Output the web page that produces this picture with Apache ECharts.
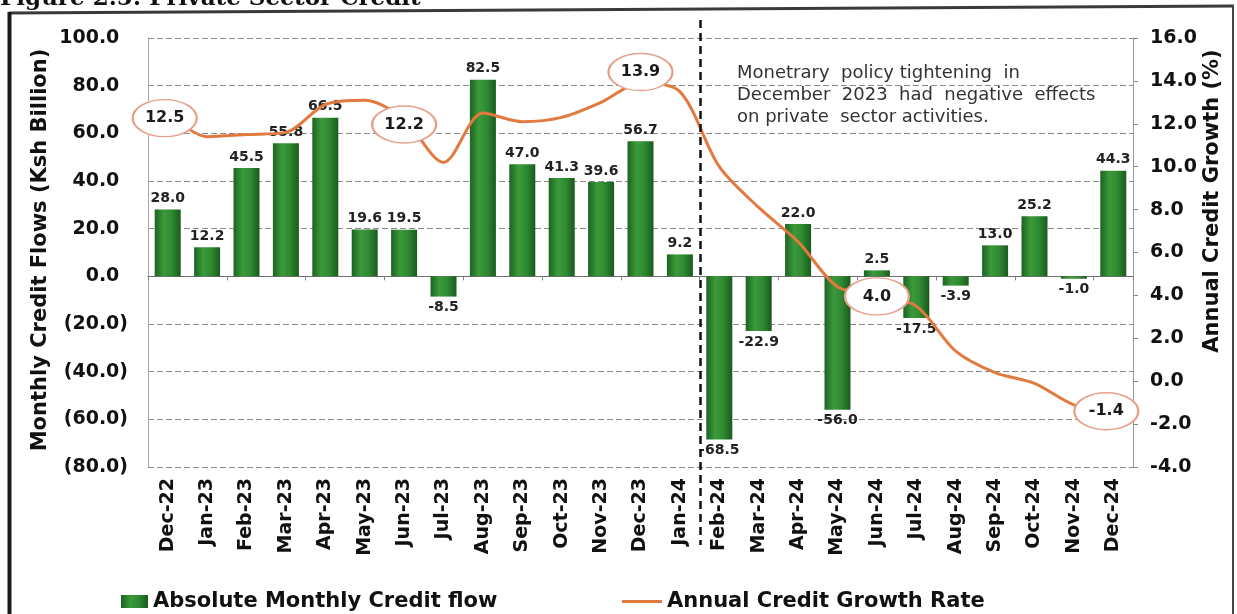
<!DOCTYPE html>
<html>
<head>
<meta charset="utf-8">
<script src="https://cdn.jsdelivr.net/npm/echarts@6/dist/echarts.min.js"></script>
<style>
  html, body { margin: 0; padding: 0; background: #ffffff; }
  #chart { width: 1237px; height: 614px; }
</style>
</head>
<body>
<div id="chart"></div>
<script>
// Monthly private sector credit flows (Ksh billion) and annual credit growth (%)
const months = ['Dec-22', 'Jan-23', 'Feb-23', 'Mar-23', 'Apr-23', 'May-23', 'Jun-23', 'Jul-23',
  'Aug-23', 'Sep-23', 'Oct-23', 'Nov-23', 'Dec-23', 'Jan-24', 'Feb-24', 'Mar-24', 'Apr-24',
  'May-24', 'Jun-24', 'Jul-24', 'Aug-24', 'Sep-24', 'Oct-24', 'Nov-24', 'Dec-24'];

const creditFlow = [28.0, 12.2, 45.5, 55.8, 66.5, 19.6, 19.5, -8.5, 82.5, 47.0, 41.3, 39.6,
  56.7, 9.2, -68.5, -22.9, 22.0, -56.0, 2.5, -17.5, -3.9, 13.0, 25.2, -1.0, 44.3];

const growthRate = [12.5, 11.4, 11.5, 11.6, 12.9, 13.1, 12.2, 10.2, 12.5, 12.1, 12.3, 13.0,
  13.9, 13.5, 10.0, 8.1, 6.5, 4.4, 4.0, 3.5, 1.4, 0.4, -0.1, -1.1, -1.4];

// Growth readings highlighted with a callout ellipse
const calloutMonths = ['Dec-22', 'Jun-23', 'Dec-23', 'Jun-24', 'Dec-24'];

// The policy change falls between these two months
const policyBreak = ['Jan-24', 'Feb-24'];

const flowTicks = { min: -80, max: 100, step: 20 };
const growthTicks = { min: -4, max: 16, step: 2 };

const seriesNames = ['Absolute Monthly Credit flow', 'Annual Credit Growth Rate'];
const note = 'Monetrary  policy tightening  in\nDecember  2023  had  negative  effects\non private  sector activities.';

const FONT = 'DejaVu Sans';
const calloutShift = [[-3, 5], [0, 5], [0, -11], [0, 1], [-7, 0]];
const ellipse = 'path://M0,18 A32,18 0 1,1 64,18 A32,18 0 1,1 0,18 Z';
const legendText = { fontFamily: FONT, fontSize: 21, fontWeight: 'bold', color: '#111' };

const barFill = new echarts.graphic.LinearGradient(0, 0, 1, 0, [
  { offset: 0, color: '#1c6322' },
  { offset: 0.35, color: '#3c9a3b' },
  { offset: 0.65, color: '#2f8a31' },
  { offset: 1, color: '#1a5a1e' }
]);

const chart = echarts.init(document.getElementById('chart'), null, { renderer: 'canvas' });

const option = {
  animation: false,
  backgroundColor: '#ffffff',
  grid: { left: 148, right: 104, top: 38, bottom: 147, outerBoundsMode: 'none' },
  legend: [
    {
      data: [seriesNames[0]],
      left: 116, top: 586,
      itemWidth: 27, itemHeight: 13, icon: 'rect',
      textStyle: legendText
    },
    {
      data: [seriesNames[1]],
      left: 617, top: 586,
      itemWidth: 40, itemHeight: 3, icon: 'rect',
      textStyle: legendText
    }
  ],
  xAxis: [
    {
      type: 'category',
      data: months,
      position: 'bottom',
      axisLine: { show: false },
      axisTick: { show: false },
      splitLine: { show: false },
      axisLabel: {
        interval: 0, rotate: 90, margin: 11,
        fontFamily: FONT, fontSize: 19, fontWeight: 'bold', color: '#111'
      }
    },
    {
      type: 'category',
      data: months,
      position: 'top',
      axisLine: { onZero: true, onZeroAxisIndex: 0, lineStyle: { color: '#707070', width: 1 } },
      axisTick: { show: true, inside: true, length: 4, lineStyle: { color: '#808080' } },
      axisLabel: { show: false },
      splitLine: { show: false }
    }
  ],
  yAxis: [
    {
      type: 'value',
      position: 'left',
      min: flowTicks.min, max: flowTicks.max, interval: flowTicks.step,
      axisLine: { show: true, lineStyle: { color: '#a8a8a8', width: 1 } },
      axisTick: { show: false },
      splitLine: { show: true, lineStyle: { color: '#8a8a8a', width: 1, type: [6, 3] } },
      axisLabel: {
        margin: 20,
        fontFamily: FONT, fontSize: 19, fontWeight: 'bold', color: '#111',
        formatter: v => v < 0 ? '(' + Math.abs(v).toFixed(1) + ')' : v.toFixed(1) + '{gap|)}',
        rich: { gap: { fontFamily: FONT, fontSize: 19, fontWeight: 'bold', color: 'rgba(0,0,0,0)' } }
      }
    },
    {
      type: 'value',
      position: 'right',
      min: growthTicks.min, max: growthTicks.max, interval: growthTicks.step,
      axisLine: { show: true, lineStyle: { color: '#9a9a9a', width: 1 } },
      axisTick: { show: true, length: 5, lineStyle: { color: '#8a8a8a' } },
      splitLine: { show: false },
      axisLabel: {
        margin: 17,
        fontFamily: FONT, fontSize: 19, fontWeight: 'bold', color: '#111',
        formatter: v => v.toFixed(1)
      }
    }
  ],
  series: [
    {
      name: seriesNames[0],
      type: 'bar',
      xAxisIndex: 0,
      yAxisIndex: 0,
      data: creditFlow,
      barWidth: 26,
      z: 2,
      itemStyle: { color: barFill },
      label: {
        show: true, position: 'outside', distance: 4,
        fontFamily: FONT, fontSize: 14, fontWeight: 'bold', color: '#222',
        formatter: p => p.value.toFixed(1)
      }
    },
    {
      name: seriesNames[1],
      type: 'line',
      xAxisIndex: 0,
      yAxisIndex: 1,
      data: growthRate,
      smooth: 0.3,
      symbol: 'none',
      z: 3,
      lineStyle: { color: '#e27a3f', width: 3 },
      itemStyle: { color: '#e27a3f' }
    },
    {
      name: 'callouts',
      type: 'scatter',
      xAxisIndex: 0,
      yAxisIndex: 1,
      z: 4,
      silent: true,
      symbol: ellipse,
      symbolSize: [64, 37],
      data: calloutMonths.map((m, i) => ({
        value: [m, growthRate[months.indexOf(m)]],
        symbolOffset: calloutShift[i]
      })),
      itemStyle: { color: '#ffffff', borderColor: '#e6a089', borderWidth: 1.8, opacity: 1 },
      label: {
        show: true, position: 'inside',
        fontFamily: FONT, fontSize: 16, fontWeight: 'bold', color: '#1a1a1a',
        formatter: p => p.value[1].toFixed(1)
      }
    }
  ]
};

chart.setOption(option);

// Separator between the two policy periods, placed through the category scale
const xa = chart.convertToPixel({ xAxisIndex: 0 }, policyBreak[0]);
const xb = chart.convertToPixel({ xAxisIndex: 0 }, policyBreak[1]);
const sepX = Math.round((xa + xb) / 2) + 0.5;

chart.setOption({
  graphic: [
    { type: 'line', silent: true, shape: { x1: 9, y1: 13, x2: 1234, y2: 6 }, style: { stroke: '#3a3a3a', lineWidth: 3 } },
    { type: 'line', silent: true, shape: { x1: 9.5, y1: 12, x2: 9.5, y2: 614 }, style: { stroke: '#1a1a1a', lineWidth: 4 } },
    { type: 'line', silent: true, shape: { x1: 1233, y1: 5, x2: 1233, y2: 614 }, style: { stroke: '#444444', lineWidth: 2 } },
    {
      type: 'text', silent: true, x: 0, y: 11,
      style: { text: 'Figure 2.5: Private Sector Credit', fontFamily: 'DejaVu Serif', fontSize: 23, fontWeight: 'bold', fill: '#111', verticalAlign: 'bottom' }
    },
    {
      type: 'text', silent: true, x: 41, y: 250, rotation: Math.PI / 2,
      style: { text: 'Monthly Credit Flows (Ksh Billion)', fontFamily: FONT, fontSize: 21, fontWeight: 'bold', fill: '#111', align: 'center', verticalAlign: 'middle' }
    },
    {
      type: 'text', silent: true, x: 1213, y: 201, rotation: Math.PI / 2,
      style: { text: 'Annual Credit Growth (%)', fontFamily: FONT, fontSize: 21, fontWeight: 'bold', fill: '#111', align: 'center', verticalAlign: 'middle' }
    },
    {
      type: 'text', silent: true, x: 737, y: 62,
      style: { text: note, fontFamily: FONT, fontSize: 18, lineHeight: 22, fill: '#333', verticalAlign: 'top' }
    },
    {
      type: 'line', silent: true, z: 10,
      shape: { x1: sepX, y1: 20, x2: sepX, y2: 545 },
      style: { stroke: '#111', lineWidth: 2.5, lineDash: [8, 5] }
    }
  ]
});
</script>
</body>
</html>
